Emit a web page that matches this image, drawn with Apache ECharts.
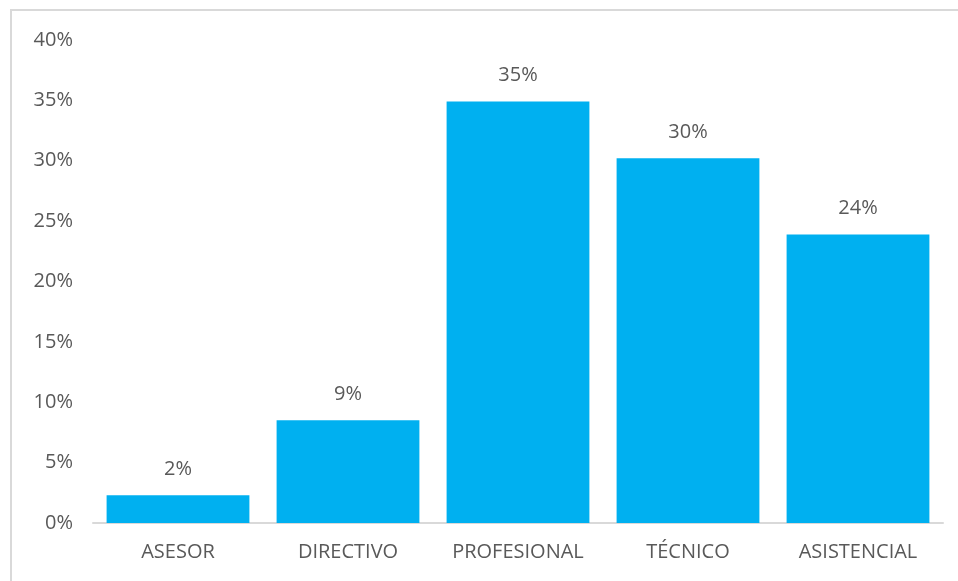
<!DOCTYPE html>
<html>
<head>
<meta charset="utf-8">
<script src="https://cdn.jsdelivr.net/npm/echarts@6/dist/echarts.min.js"></script>
<style>
  html, body { margin: 0; padding: 0; background: #fff; }
  #chart { width: 958px; height: 581px; }
</style>
</head>
<body>
<div id="chart"></div>
<script>
// Distribución por nivel jerárquico (porcentaje)
const categories = ['ASESOR', 'DIRECTIVO', 'PROFESIONAL', 'TÉCNICO', 'ASISTENCIAL'];
const values = [2.3, 8.5, 34.9, 30.2, 23.9];
const yTicks = { min: 0, max: 40, interval: 5 };

const textColor = '#595959';
const font = 'Open Sans';

const chart = echarts.init(document.getElementById('chart'), null, { renderer: 'canvas' });
chart.setOption({
  animation: false,
  backgroundColor: '#ffffff',
  graphic: [{
    type: 'rect',
    shape: { x: 11, y: 10, width: 960, height: 590 },
    style: { fill: 'none', stroke: '#d9d9d9', lineWidth: 2 },
    silent: true
  }],
  grid: { left: 93, right: 15, top: 40, bottom: 58 },
  xAxis: {
    type: 'category',
    data: categories,
    axisLine: { lineStyle: { color: '#d9d9d9', width: 2 } },
    axisTick: { show: false },
    axisLabel: { interval: 0, color: textColor, fontFamily: font, fontSize: 20, margin: 19 }
  },
  yAxis: {
    type: 'value',
    min: yTicks.min,
    max: yTicks.max,
    interval: yTicks.interval,
    splitLine: { show: false },
    axisLine: { show: false },
    axisTick: { show: false },
    axisLabel: {
      color: textColor, fontFamily: font, fontSize: 20, margin: 20,
      formatter: v => v + '%'
    }
  },
  series: [{
    type: 'bar',
    data: values,
    barCategoryGap: '16%',
    itemStyle: { color: '#00b0f0' },
    label: {
      show: true,
      position: 'top',
      distance: 16,
      color: textColor,
      fontFamily: font,
      fontSize: 20,
      formatter: p => Math.round(p.value) + '%'
    }
  }]
});
</script>
</body>
</html>
